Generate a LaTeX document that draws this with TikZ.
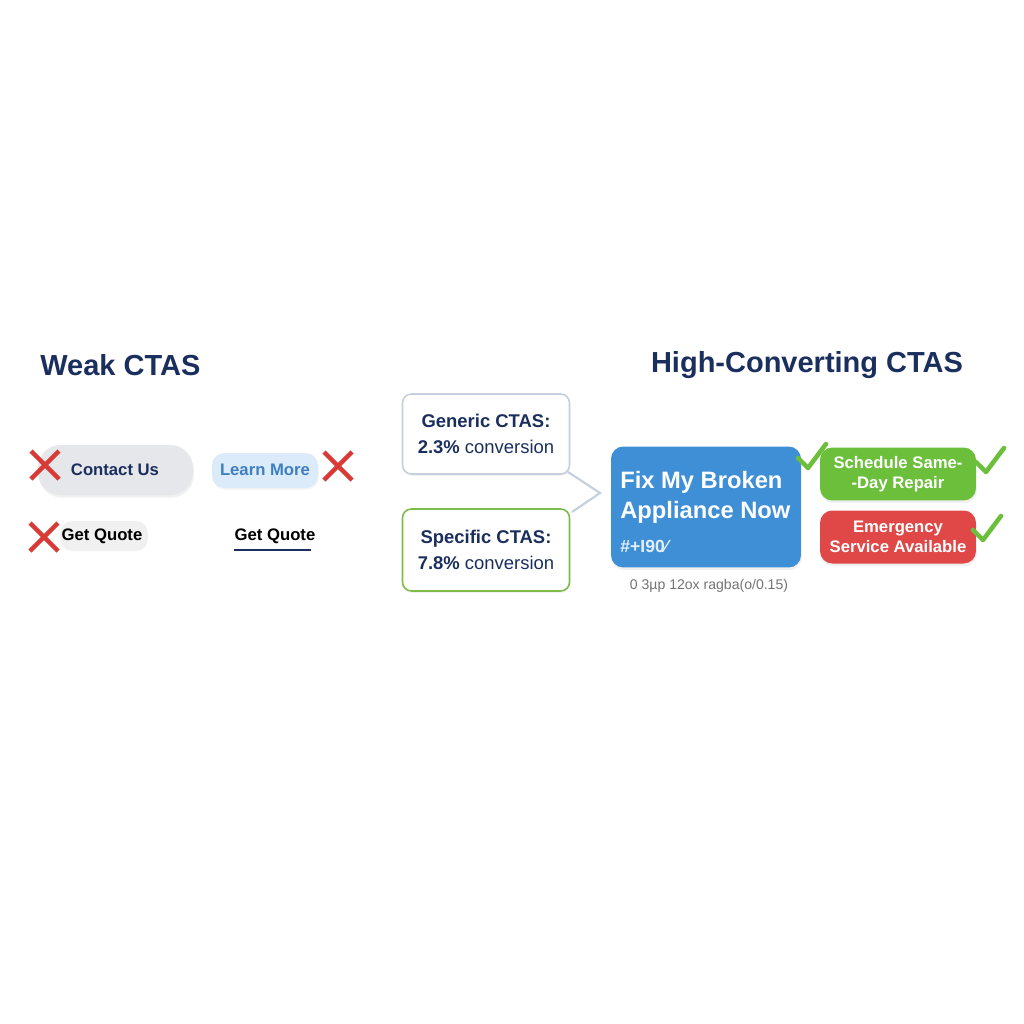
\documentclass[tikz,border=0pt]{standalone}
\usepackage{fontspec}
\setmainfont{Liberation Sans}
\usetikzlibrary{shadows}
\definecolor{navy}{HTML}{1B2F5E}
\definecolor{btngray}{HTML}{E6E7EA}
\definecolor{lblue}{HTML}{DCEBF9}
\definecolor{tblue}{HTML}{3D7FC1}
\definecolor{cblue}{HTML}{3F8FD6}
\definecolor{cgreen}{HTML}{6CBF3A}
\definecolor{cred}{HTML}{E04848}
\definecolor{xred}{HTML}{D93A35}
\definecolor{bord}{HTML}{C5CFDD}
\definecolor{gbord}{HTML}{7DBB4A}
\begin{document}
\begin{tikzpicture}[x=0.02cm,y=-0.02cm,
  every node/.style={inner sep=0pt},
  title/.style={font=\fontsize{16.5}{20}\selectfont\bfseries,text=navy},
  btn/.style={font=\fontsize{9.5}{11}\selectfont\bfseries},
  stat/.style={draw,line width=0.9pt,fill=white,rounded corners=5pt,align=center,
    font=\fontsize{10.5}{15}\selectfont,text=navy,drop shadow={opacity=0.1,shadow xshift=0.5pt,shadow yshift=-1pt}},
  cta/.style={rounded corners=7pt,align=center,text=white,
    font=\fontsize{9.5}{11.5}\selectfont\bfseries,drop shadow={opacity=0.12,shadow xshift=0.5pt,shadow yshift=-1.5pt}},
  cross/.style={xred,line width=2.6pt},
  tick/.style={cgreen,line width=2.6pt,line cap=round,line join=round}]
\useasboundingbox (0,0) rectangle (1024,1024);
% titles
\node[title,anchor=west] (weak) at (40,365) {Weak CTAS};
\node[title] (high) at (807,365) {High-Converting CTAS};
% weak buttons
\fill[btngray,rounded corners=13pt,drop shadow={opacity=0.12,shadow xshift=0.5pt,shadow yshift=-1.5pt}] (38,445) rectangle (193,495);
\node[btn,text=navy] (contact) at (115,470) {Contact Us};
\fill[lblue,rounded corners=7pt,drop shadow={opacity=0.08,shadow xshift=0.5pt,shadow yshift=-1pt}] (212,453) rectangle (318,488);
\node[btn,text=tblue] (learn) at (265,470) {Learn More};
\fill[gray!12,rounded corners=7pt] (60,521) rectangle (148,551);
\node[btn,text=black] (quote) at (102,536) {Get Quote};
\node[btn,text=black] (quoteb) at (275,536) {Get Quote};
\draw[navy,line width=1pt] (quoteb.south west)++(0,6) -- ++(77,0);
% red crosses
\foreach \cx/\cy in {45/465,338/466,44/537}{
  \draw[cross] (\cx-14,\cy-14) -- (\cx+14,\cy+14) (\cx-14,\cy+14) -- (\cx+14,\cy-14);
}
% comparison boxes
\node[stat,draw=bord,minimum width=167*0.2mm,minimum height=80*0.2mm] (generic) at (486,434)
  {\textbf{Generic CTAS:}\\\textbf{2.3\%} conversion};
\node[stat,draw=gbord,minimum width=167*0.2mm,minimum height=82*0.2mm] (specific) at (486,550)
  {\textbf{Specific CTAS:}\\\textbf{7.8\%} conversion};
\draw[bord,line width=1.2pt] (568,472) -- (600,493) -- (572,512);
% high converting
\node[cta,fill=cblue,minimum width=190*0.2mm,minimum height=121*0.2mm] (main) at (706,507) {};
\node[anchor=west,text=white,font=\fontsize{13.5}{17}\selectfont\bfseries,align=left] (mtext) at (620,497)
  {Fix My Broken\\Appliance Now};
\node[anchor=west,text=white!85!cblue,font=\fontsize{10}{12}\selectfont\bfseries] (garb) at (620,546) {\#+I90⁄};
\node[text=gray!90!black,font=\fontsize{8}{10}\selectfont] (note) at (709,586) {0 3µp 12ox ragba(o/0.15)};
\node[cta,fill=cgreen,minimum width=156*0.2mm,minimum height=53*0.2mm] (sched) at (898,474)
  {Schedule Same-\\-Day Repair};
\node[cta,fill=cred,minimum width=156*0.2mm,minimum height=53*0.2mm] (emerg) at (898,537)
  {Emergency\\Service Available};
% ticks
\foreach \tx/\ty in {810/458,988/462,985/530}{
  \draw[tick] (\tx-12,\ty) -- (\tx-2,\ty+10) -- (\tx+16,\ty-14);
}
\end{tikzpicture}
\end{document}
